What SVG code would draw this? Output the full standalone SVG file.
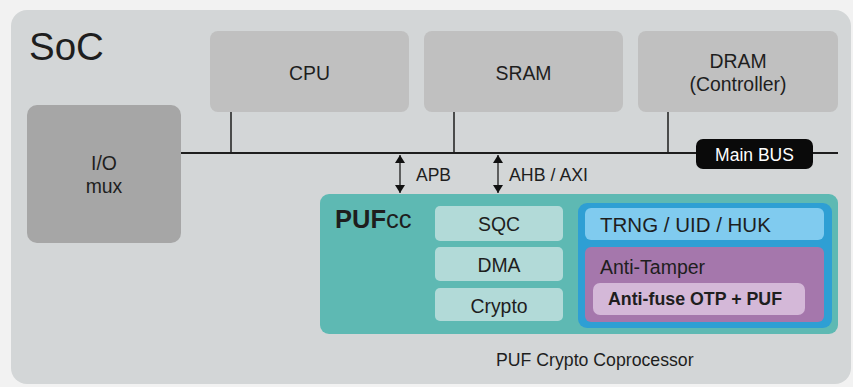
<svg xmlns="http://www.w3.org/2000/svg" width="853" height="387" viewBox="0 0 853 387">
<style>
text{font-family:"Liberation Sans",Arial,sans-serif;fill:#1e1e1e}
.lbl{font-size:19.4px;text-anchor:middle}
.grey{fill:#c0c0c0}
.sub{fill:#b2dad8}
.bus{stroke:#1e1e1e;stroke-width:2;fill:none}
.tap{stroke:#1e1e1e;stroke-width:1.5;fill:none}
.arr{stroke:#1e1e1e;stroke-width:1.3;fill:none;marker-start:url(#ah);marker-end:url(#ah)}
</style>
<defs>
<marker id="ah" viewBox="0 0 8 10" refX="8" refY="5" markerWidth="8" markerHeight="10" markerUnits="userSpaceOnUse" orient="auto-start-reverse">
<path d="M0,0 L8,5 L0,10 z" fill="#111"/>
</marker>
</defs>
<rect x="0" y="0" width="853" height="387" fill="#f2f2f2"/>
<g id="soc">
<rect x="11" y="10" width="840" height="374" rx="16" fill="#d3d6d7"/>
<text x="29" y="60" style="font-size:38.5px">SoC</text>
</g>
<g id="connectors">
<path class="bus" d="M181,153 H838"/>
<path class="tap" d="M231,112 V153 M454,112 V153 M668,112 V153"/>
<path class="arr" d="M400,155 V193"/>
<path class="arr" d="M498,155 V193"/>
<text x="416" y="181" style="font-size:17.5px">APB</text>
<text x="509" y="181" style="font-size:17.8px">AHB / AXI</text>
</g>
<g id="mainbus">
<rect x="696" y="139" width="117" height="30" rx="7" fill="#0a0a0a"/>
<text x="754.5" y="161" style="font-size:17.5px;fill:#fff;text-anchor:middle">Main BUS</text>
</g>
<g id="cpu">
<rect class="grey" x="210" y="31" width="199" height="81" rx="8"/>
<text class="lbl" x="309.5" y="80">CPU</text>
</g>
<g id="sram">
<rect class="grey" x="424" y="31" width="199" height="81" rx="8"/>
<text class="lbl" x="523.5" y="80">SRAM</text>
</g>
<g id="dram">
<rect class="grey" x="638" y="31" width="200" height="81" rx="8"/>
<text class="lbl" x="738" y="68">DRAM</text>
<text class="lbl" x="738" y="91">(Controller)</text>
</g>
<g id="iomux">
<rect x="27" y="105" width="154" height="138" rx="10" fill="#a6a6a6"/>
<text class="lbl" x="104" y="170">I/O</text>
<text class="lbl" x="104" y="193">mux</text>
</g>
<g id="pufcc">
<rect x="320" y="194" width="518" height="140" rx="9" fill="#5eb9b3"/>
<text x="335" y="228" style="font-size:25.5px"><tspan style="font-weight:bold">PUF</tspan>cc</text>
</g>
<g id="sqc">
<rect class="sub" x="435" y="206" width="128" height="35" rx="5"/>
<text class="lbl" x="499" y="231">SQC</text>
</g>
<g id="dma">
<rect class="sub" x="435" y="247" width="128" height="34" rx="5"/>
<text class="lbl" x="499" y="272">DMA</text>
</g>
<g id="crypto">
<rect class="sub" x="435" y="288" width="128" height="33" rx="5"/>
<text class="lbl" x="499" y="313">Crypto</text>
</g>
<g id="secure">
<rect x="578" y="203" width="254" height="125" rx="9" fill="#2e9fd4"/>
</g>
<g id="trng">
<rect x="585" y="208" width="239" height="32" rx="6" fill="#80cbef"/>
<text x="600" y="232" style="font-size:20.5px">TRNG / UID / HUK</text>
</g>
<g id="antitamper">
<rect x="585" y="247" width="239" height="75" rx="6" fill="#a577ac"/>
<text x="600" y="274" style="font-size:19.5px">Anti-Tamper</text>
</g>
<g id="otp">
<rect x="593" y="283" width="212" height="32" rx="7" fill="#d4b8d8"/>
<text x="608" y="305" style="font-size:17.8px;font-weight:bold">Anti-fuse OTP + PUF</text>
</g>
<g id="caption">
<text x="496" y="366" style="font-size:17.7px">PUF Crypto Coprocessor</text>
</g>
</svg>
